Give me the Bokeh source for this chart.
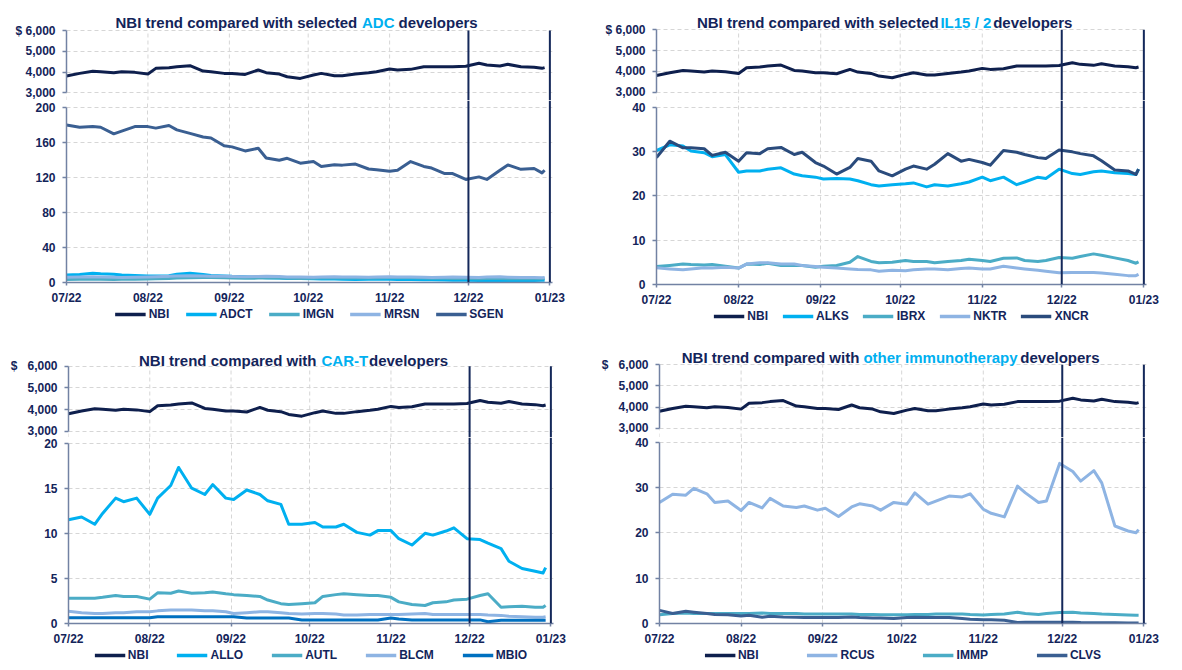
import pandas as pd
from bokeh.plotting import figure
from bokeh.layouts import row, column
from bokeh.models import (Range1d, FixedTicker, NumeralTickFormatter, DatetimeTickFormatter,
                          Span, Legend, LegendItem)
from bokeh.core.properties import value
from bokeh.embed import file_html
from bokeh.resources import INLINE

# ---------------- data ----------------
dates = list(pd.bdate_range("2022-07-01", "2022-12-30")[::3]) + [pd.Timestamp("2022-12-30")]
month_ticks = ["2022-07-01", "2022-08-01", "2022-09-01", "2022-10-01",
               "2022-11-01", "2022-12-01", "2023-01-01"]
marker_dates = ["2022-12-01", "2023-01-01"]
nbi_ticks = [3000, 4000, 5000, 6000]

NBI = [3806, 3935, 4040, 4016, 3968, 4016, 3984, 3903, 4177, 4210, 4258, 4306, 4048, 4016, 3935,
       3935, 3887, 4097, 3968, 3903, 3774, 3694, 3855, 3935, 3823, 3823, 3903, 3968, 4016, 4145,
       4097, 4129, 4258, 4258, 4258, 4258, 4280, 4420, 4339, 4290, 4371, 4258, 4226, 4177, 4210]

# ADC developers
ADCT = [8.5, 9.0, 10.5, 10.0, 9.5, 8.5, 8.0, 7.5, 7.5, 7.8, 9.5, 10.5, 9.0, 8.0, 7.5,
        7.0, 6.5, 6.0, 5.5, 5.0, 4.5, 4.5, 4.3, 4.0, 4.0, 3.8, 3.5, 3.6, 3.6, 3.8,
        3.5, 3.3, 3.0, 3.0, 2.8, 2.5, 2.5, 2.2, 2.0, 1.9, 2.1, 2.2, 2.3, 2.5, 2.6]
IMGN = [3.5, 3.6, 3.8, 3.7, 3.5, 3.6, 3.8, 4.0, 4.2, 4.5, 5.0, 5.5, 5.8, 5.6, 5.4,
        5.0, 4.8, 5.0, 5.2, 5.0, 4.8, 4.6, 4.8, 5.0, 5.2, 5.3, 5.1, 5.0, 5.2, 5.4,
        5.5, 5.3, 5.0, 4.9, 4.8, 4.7, 4.6, 4.4, 4.5, 4.6, 4.4, 4.3, 4.2, 4.3, 4.4]
MRSN = [6.0, 6.2, 6.5, 6.3, 6.0, 5.8, 6.0, 6.2, 6.5, 7.0, 7.5, 7.8, 7.5, 7.2, 7.0,
        6.8, 6.5, 6.8, 7.0, 6.7, 6.4, 6.2, 6.0, 6.3, 6.5, 6.4, 6.2, 6.0, 6.3, 6.5,
        6.4, 6.2, 6.0, 5.8, 6.0, 6.2, 6.0, 5.8, 6.2, 6.5, 6.0, 5.8, 5.6, 5.5, 5.6]
SGEN = [179.5, 177.0, 177.7, 177.0, 169.5, 172.5, 177.7, 177.7, 176.0, 179.0, 174.0, 170.0,
        165.8, 164.7, 155.8, 154.6, 150.0, 153.0, 142.0, 139.4, 141.6, 136.0, 137.9, 132.3,
        134.2, 133.8, 135.0, 129.4, 128.6, 126.8, 127.9, 137.9, 132.3, 130.5, 124.2, 124.2,
        117.5, 120.4, 117.5, 128.0, 134.0, 129.0, 130.0, 125.0, 128.0]

# IL15 / 2 developers
ALKS = [30.2, 31.5, 31.2, 30.1, 29.7, 28.8, 29.3, 25.3, 25.6, 25.6, 26.0, 26.3, 24.9, 24.5, 24.2,
        23.8, 23.9, 23.8, 23.4, 22.5, 22.2, 22.5, 22.7, 22.9, 22.0, 22.5, 22.2, 22.7, 23.1, 24.2,
        23.4, 24.2, 22.5, 23.1, 24.2, 23.9, 26.0, 25.0, 24.8, 25.4, 25.6, 25.2, 25.0, 24.8, 26.0]
IBRX = [4.05, 4.3, 4.6, 4.5, 4.4, 4.5, 4.1, 3.7, 4.6, 4.5, 4.8, 4.3, 4.3, 4.3, 3.9,
        4.1, 4.3, 5.0, 6.3, 5.2, 4.9, 5.0, 5.4, 5.2, 5.2, 4.9, 5.2, 5.4, 5.7, 5.4,
        5.2, 5.9, 6.0, 5.4, 5.2, 5.4, 6.1, 5.9, 6.3, 6.9, 6.6, 6.0, 5.4, 4.8, 5.1]
NKTR = [3.75, 3.5, 3.3, 3.5, 3.75, 3.7, 3.9, 3.7, 4.6, 4.9, 4.9, 4.6, 4.6, 4.3, 4.05,
        3.9, 3.7, 3.5, 3.4, 3.3, 3.0, 3.2, 3.1, 3.3, 3.5, 3.5, 3.3, 3.6, 3.7, 3.5,
        3.5, 4.1, 3.7, 3.5, 3.2, 3.0, 2.65, 2.7, 2.7, 2.7, 2.6, 2.3, 2.0, 2.0, 2.3]
XNCR = [28.6, 32.3, 30.8, 30.8, 30.6, 29.1, 29.8, 27.8, 29.7, 29.5, 30.6, 30.9, 29.3, 29.8, 27.5,
        26.7, 24.9, 26.4, 28.4, 27.8, 25.6, 24.5, 26.0, 26.7, 26.0, 27.1, 29.5, 27.8, 28.2, 27.5,
        26.9, 30.2, 29.8, 29.3, 28.6, 28.4, 30.3, 29.9, 29.5, 29.0, 27.9, 25.8, 25.6, 24.8, 26.0]

# CAR-T developers
ALLO = [11.5, 11.8, 11.0, 12.2, 13.9, 13.5, 13.9, 12.1, 13.9, 15.3, 17.3, 15.0, 14.3, 15.4, 13.9,
        13.75, 14.8, 14.3, 13.6, 13.2, 11.0, 11.0, 11.2, 10.7, 10.7, 11.0, 10.1, 9.8, 10.3, 10.3,
        9.4, 8.7, 10.0, 9.8, 10.25, 10.6, 9.4, 9.3, 8.9, 8.3, 6.9, 6.1, 5.8, 5.6, 6.2]
AUTL = [2.8, 2.8, 2.8, 2.9, 3.1, 3.0, 3.0, 2.7, 3.4, 3.35, 3.6, 3.35, 3.4, 3.5, 3.3,
        3.2, 3.1, 3.0, 2.6, 2.2, 2.1, 2.2, 2.3, 3.0, 3.2, 3.3, 3.2, 3.1, 3.1, 2.9,
        2.4, 2.1, 2.0, 2.3, 2.4, 2.6, 2.7, 3.1, 3.3, 1.8, 1.85, 1.9, 1.8, 1.8, 2.0]
BLCM = [1.35, 1.2, 1.1, 1.1, 1.2, 1.2, 1.3, 1.3, 1.4, 1.5, 1.5, 1.5, 1.4, 1.4, 1.3,
        1.1, 1.2, 1.3, 1.3, 1.2, 1.1, 1.05, 1.1, 1.1, 1.05, 0.95, 0.95, 1.0, 1.0, 1.0,
        1.0, 1.05, 1.1, 1.0, 1.0, 1.0, 1.0, 1.0, 0.95, 0.9, 0.8, 0.75, 0.7, 0.7, 0.75]
MBIO = [0.65, 0.65, 0.65, 0.65, 0.65, 0.65, 0.65, 0.65, 0.75, 0.75, 0.75, 0.75, 0.75, 0.75, 0.75,
        0.75, 0.6, 0.6, 0.6, 0.6, 0.6, 0.4, 0.4, 0.4, 0.4, 0.4, 0.4, 0.4, 0.4, 0.6,
        0.5, 0.4, 0.4, 0.4, 0.4, 0.4, 0.4, 0.4, 0.2, 0.35, 0.35, 0.35, 0.35, 0.35, 0.35]

# other immunotherapy developers
RCUS = [26.7, 28.5, 28.3, 29.8, 28.6, 26.7, 27.0, 24.9, 26.7, 25.5, 27.6, 25.9, 25.6, 25.9, 25.0,
        25.4, 23.6, 25.7, 26.4, 25.9, 25.0, 26.7, 26.3, 28.8, 26.3, 27.0, 28.1, 27.9, 28.6, 25.2,
        24.3, 23.5, 30.3, 28.8, 26.7, 27.0, 35.3, 33.5, 31.4, 33.7, 31.0, 21.5, 20.4, 20.0, 20.7]
IMMP = [1.95, 2.2, 2.3, 2.2, 2.2, 2.2, 2.2, 2.2, 2.2, 2.3, 2.2, 2.2, 2.2, 2.1, 2.1,
        2.1, 2.1, 2.1, 2.0, 2.0, 1.95, 1.95, 1.95, 2.0, 2.0, 2.1, 2.1, 2.1, 2.0, 1.9,
        2.0, 2.1, 2.5, 2.2, 2.0, 2.2, 2.4, 2.5, 2.3, 2.2, 2.1, 2.0, 1.9, 1.8, 1.8]
CLVS = [2.9, 2.2, 2.7, 2.5, 2.2, 2.0, 1.95, 1.65, 1.8, 1.4, 1.6, 1.45, 1.4, 1.3, 1.3,
        1.3, 1.3, 1.45, 1.3, 1.2, 1.2, 1.1, 1.3, 1.4, 1.3, 1.3, 1.3, 1.1, 0.95, 0.85,
        0.85, 0.7, 0.2, 0.3, 0.3, 0.3, 0.3, 0.3, 0.2, 0.15, 0.15, 0.15, 0.1, 0.1, 0.1]

# ---------------- style ----------------
NAVY = "#13245A"
NBI_C = "#0E1F4D"
CYAN = "#00B0F0"
TEAL = "#4BACC6"
PERI = "#8EB4E3"
STEEL = "#3A5F92"
STEEL2 = "#2A4B7C"
BLUE = "#0070C0"
VLINE = "#14285A"
AXIS_C = "#7282A3"
GRID_C = "#D6D6D6"
FONT = "Liberation Sans"
NB = "\u00a0"
X_START, X_END = "2022-07-01", "2023-01-02"


def ms(d):
    return pd.Timestamp(d).value / 1e6


# layout targets are page pixels (top-left origin)
panels = [
    dict(x0=0, y0=0, w=598, mbl=66, mbr=46,
         top_h=100, p6000=30.0, p3000=92.3, bot_h=207, bot_fr=186, px_top=6.7, leg_h=26,
         leg_mbl=58, leg_mbr=26, leg_pad=0, spacing=15.5,
         ticks=[0, 40, 80, 120, 160, 200], top_label="$ 6,000", baseline=22.3,
         title=[("NBI trend compared with selected", NAVY, 115), ("ADC", CYAN, 361.5),
                ("developers", NAVY, 398)],
         series=[("ADCT", ADCT, CYAN), ("IMGN", IMGN, TEAL), ("MRSN", MRSN, PERI),
                 ("SGEN", SGEN, STEEL)]),
    dict(x0=598, y0=0, w=584, mbl=58, mbr=29,
         top_h=100, p6000=29.3, p3000=91.7, bot_h=209, bot_fr=188, px_top=6.7, leg_h=24,
         leg_mbl=58, leg_mbr=36, leg_pad=3, spacing=14.5,
         ticks=[0, 10, 20, 30, 40], top_label="$ 6,000", baseline=22.4,
         title=[("NBI trend compared with selected", NAVY, 697), ("IL15 / 2", CYAN, 944),
                ("developers", NAVY, 997.5)],
         series=[("ALKS", ALKS, CYAN), ("IBRX", IBRX, TEAL), ("NKTR", NKTR, PERI),
                 ("XNCR", XNCR, STEEL2)]),
    dict(x0=0, y0=333, w=598, mbl=68, mbr=45,
         top_h=104, p6000=365.7, p3000=430.7, bot_h=211, bot_fr=190, px_top=5.7, leg_h=22,
         leg_mbl=60, leg_mbr=27, leg_pad=0, spacing=28,
         ticks=[0, 5, 10, 15, 20], top_label="$" + NB + NB + NB + "6,000", baseline=359.6,
         title=[("NBI trend compared with", NAVY, 138.5), ("CAR-T", CYAN, 321),
                ("developers", NAVY, 368.5)],
         series=[("ALLO", ALLO, CYAN), ("AUTL", AUTL, TEAL), ("BLCM", BLCM, PERI),
                 ("MBIO", MBIO, BLUE)]),
    dict(x0=598, y0=333, w=584, mbl=59, mbr=33,
         top_h=104, p6000=364.3, p3000=427.7, bot_h=211, bot_fr=190, px_top=4.7, leg_h=22,
         leg_mbl=59, leg_mbr=36, leg_pad=0, spacing=48,
         ticks=[0, 10, 20, 30, 40], top_label="$" + NB + NB + NB + "6,000", baseline=357.2,
         title=[("NBI trend compared with", NAVY, 679.5), ("other immunotherapy", CYAN, 863),
                ("developers", NAVY, 1021.5)],
         series=[("RCUS", RCUS, PERI), ("IMMP", IMMP, TEAL), ("CLVS", CLVS, STEEL)]),
]


def style_axis(ax):
    ax.axis_line_color = AXIS_C
    ax.axis_line_width = 1.5
    ax.major_tick_line_color = AXIS_C
    ax.major_tick_line_width = 1.5
    ax.major_tick_in = 0
    ax.minor_tick_line_color = None
    ax.major_label_text_font = FONT
    ax.major_label_text_font_style = "bold"
    ax.major_label_text_font_size = "12px"
    ax.major_label_text_color = NAVY


def style_yaxis(ax, ticks, bounds, overrides=None):
    ax.ticker = FixedTicker(ticks=ticks)
    ax.formatter = NumeralTickFormatter(format="0,0")
    if overrides:
        ax.major_label_overrides = overrides
    ax.bounds = bounds
    style_axis(ax)
    ax.major_tick_out = 4
    ax.major_label_standoff = 7


def style_grid(g):
    g.grid_line_color = GRID_C
    g.grid_line_dash = "4 3"
    g.grid_line_width = 1


def make_panel(s):
    x_range = Range1d(ms(X_START), ms(X_END))
    mticks = [ms(d) for d in month_ticks]
    mark = [ms(d) for d in marker_dates]
    w = s["w"]

    # ---- upper part: title + NBI (frame spans the title strip as well) ----
    top0, top1 = s["y0"], s["y0"] + s["top_h"]
    unit = 3000.0 / (s["p3000"] - s["p6000"])
    y_end = 6000 + (s["p6000"] - top0) * unit
    y_start = 3000 - (top1 - s["p3000"]) * unit
    f_left = s["x0"] + s["mbl"]
    f_right = s["x0"] + w - s["mbr"]
    pt = figure(width=w, height=s["top_h"], x_range=x_range,
                y_range=Range1d(y_start, y_end), x_axis_type="datetime",
                x_axis_location=None, output_backend="svg", toolbar_location=None,
                min_border_left=s["mbl"], min_border_right=s["mbr"],
                min_border_top=0, min_border_bottom=0,
                extra_x_ranges={"px": Range1d(f_left, f_right)},
                extra_y_ranges={"py": Range1d(top1, top0)})
    pt.outline_line_color = None
    pt.xgrid.visible = False
    style_yaxis(pt.yaxis[0], nbi_ticks, (3000, 6000), {6000: s["top_label"]})
    pt.ygrid.ticker = pt.yaxis[0].ticker
    style_grid(pt.ygrid[0])
    # vertical month grid lines, limited to the NBI scale
    pt.segment(x0=mticks, y0=[y_start] * len(mticks), x1=mticks, y1=[6000] * len(mticks),
               line_color=GRID_C, line_dash="4 3", line_width=1)
    pt.line(dates, NBI, line_color=NBI_C, line_width=3, line_join="round")
    pt.segment(x0=mark, y0=[y_start] * len(mark), x1=mark, y1=[6000] * len(mark),
               line_color=VLINE, line_width=2)
    pt.text(x=[t[2] for t in s["title"]], y=[s["baseline"]] * len(s["title"]),
            text=[t[0] for t in s["title"]], text_color=[t[1] for t in s["title"]],
            text_font=value(FONT), text_font_style="bold", text_font_size="15px",
            text_align="left", text_baseline="alphabetic",
            x_range_name="px", y_range_name="py")

    # ---- lower part: peers ----
    fr_bot = s["bot_fr"]
    mbb = s["bot_h"] - fr_bot
    tmax = s["ticks"][-1]
    yr_bot = Range1d(0, tmax * fr_bot / (fr_bot - s["px_top"]))
    pb = figure(width=w, height=s["bot_h"], x_range=x_range, y_range=yr_bot,
                x_axis_type="datetime", output_backend="svg", toolbar_location=None,
                min_border_left=s["mbl"], min_border_right=s["mbr"],
                min_border_top=0, min_border_bottom=mbb)
    pb.outline_line_color = None
    style_yaxis(pb.yaxis[0], s["ticks"], (0, tmax))
    pb.ygrid.ticker = pb.yaxis[0].ticker
    xa = pb.xaxis[0]
    xa.ticker = FixedTicker(ticks=mticks)
    pb.xgrid.ticker = xa.ticker
    fmt = "%m/%y"
    xa.formatter = DatetimeTickFormatter(microseconds=fmt, milliseconds=fmt, seconds=fmt,
                                         minsec=fmt, minutes=fmt, hourmin=fmt, hours=fmt,
                                         days=fmt, months=fmt, years=fmt)
    style_axis(xa)
    xa.major_tick_out = 3
    xa.major_label_standoff = 5
    style_grid(pb.ygrid[0])
    style_grid(pb.xgrid[0])
    for name, vals, col in s["series"]:
        pb.line(dates, vals, line_color=col, line_width=3, line_join="round")
    for m in mark:
        pb.add_layout(Span(location=m, dimension="height", line_color=VLINE, line_width=2))

    # ---- legend strip ----
    pl = figure(width=w, height=s["leg_h"], x_range=Range1d(0, 1), y_range=Range1d(0, 1),
                output_backend="svg", toolbar_location=None,
                x_axis_location=None, y_axis_location=None,
                min_border_left=s["leg_mbl"], min_border_right=s["leg_mbr"],
                min_border_top=0, min_border_bottom=0)
    pl.outline_line_color = None
    pl.xgrid.visible = False
    pl.ygrid.visible = False
    items = []
    for name, vals, col in [("NBI", NBI, NBI_C)] + s["series"]:
        r = pl.line(dates, vals, line_color=col, line_width=3.5, visible=False)
        items.append(LegendItem(label=name, renderers=[r]))
    leg = Legend(items=items, orientation="horizontal", location="top_center",
                 glyph_width=31, glyph_height=12, label_height=12, label_width=0,
                 label_standoff=3, spacing=int(round(s["spacing"])), padding=s["leg_pad"],
                 margin=0, border_line_color=None, background_fill_alpha=0,
                 inactive_fill_alpha=0,
                 label_text_font=FONT, label_text_font_style="bold",
                 label_text_font_size="12px", label_text_color=NAVY)
    pl.add_layout(leg)
    return column(pt, pb, pl, spacing=0)


cols = [make_panel(s) for s in panels]
layout = column(row(cols[0], cols[1], spacing=0), row(cols[2], cols[3], spacing=0), spacing=0)

with open("out.html", "w") as f:
    f.write(file_html(layout, INLINE, title="NBI trend comparisons"))
